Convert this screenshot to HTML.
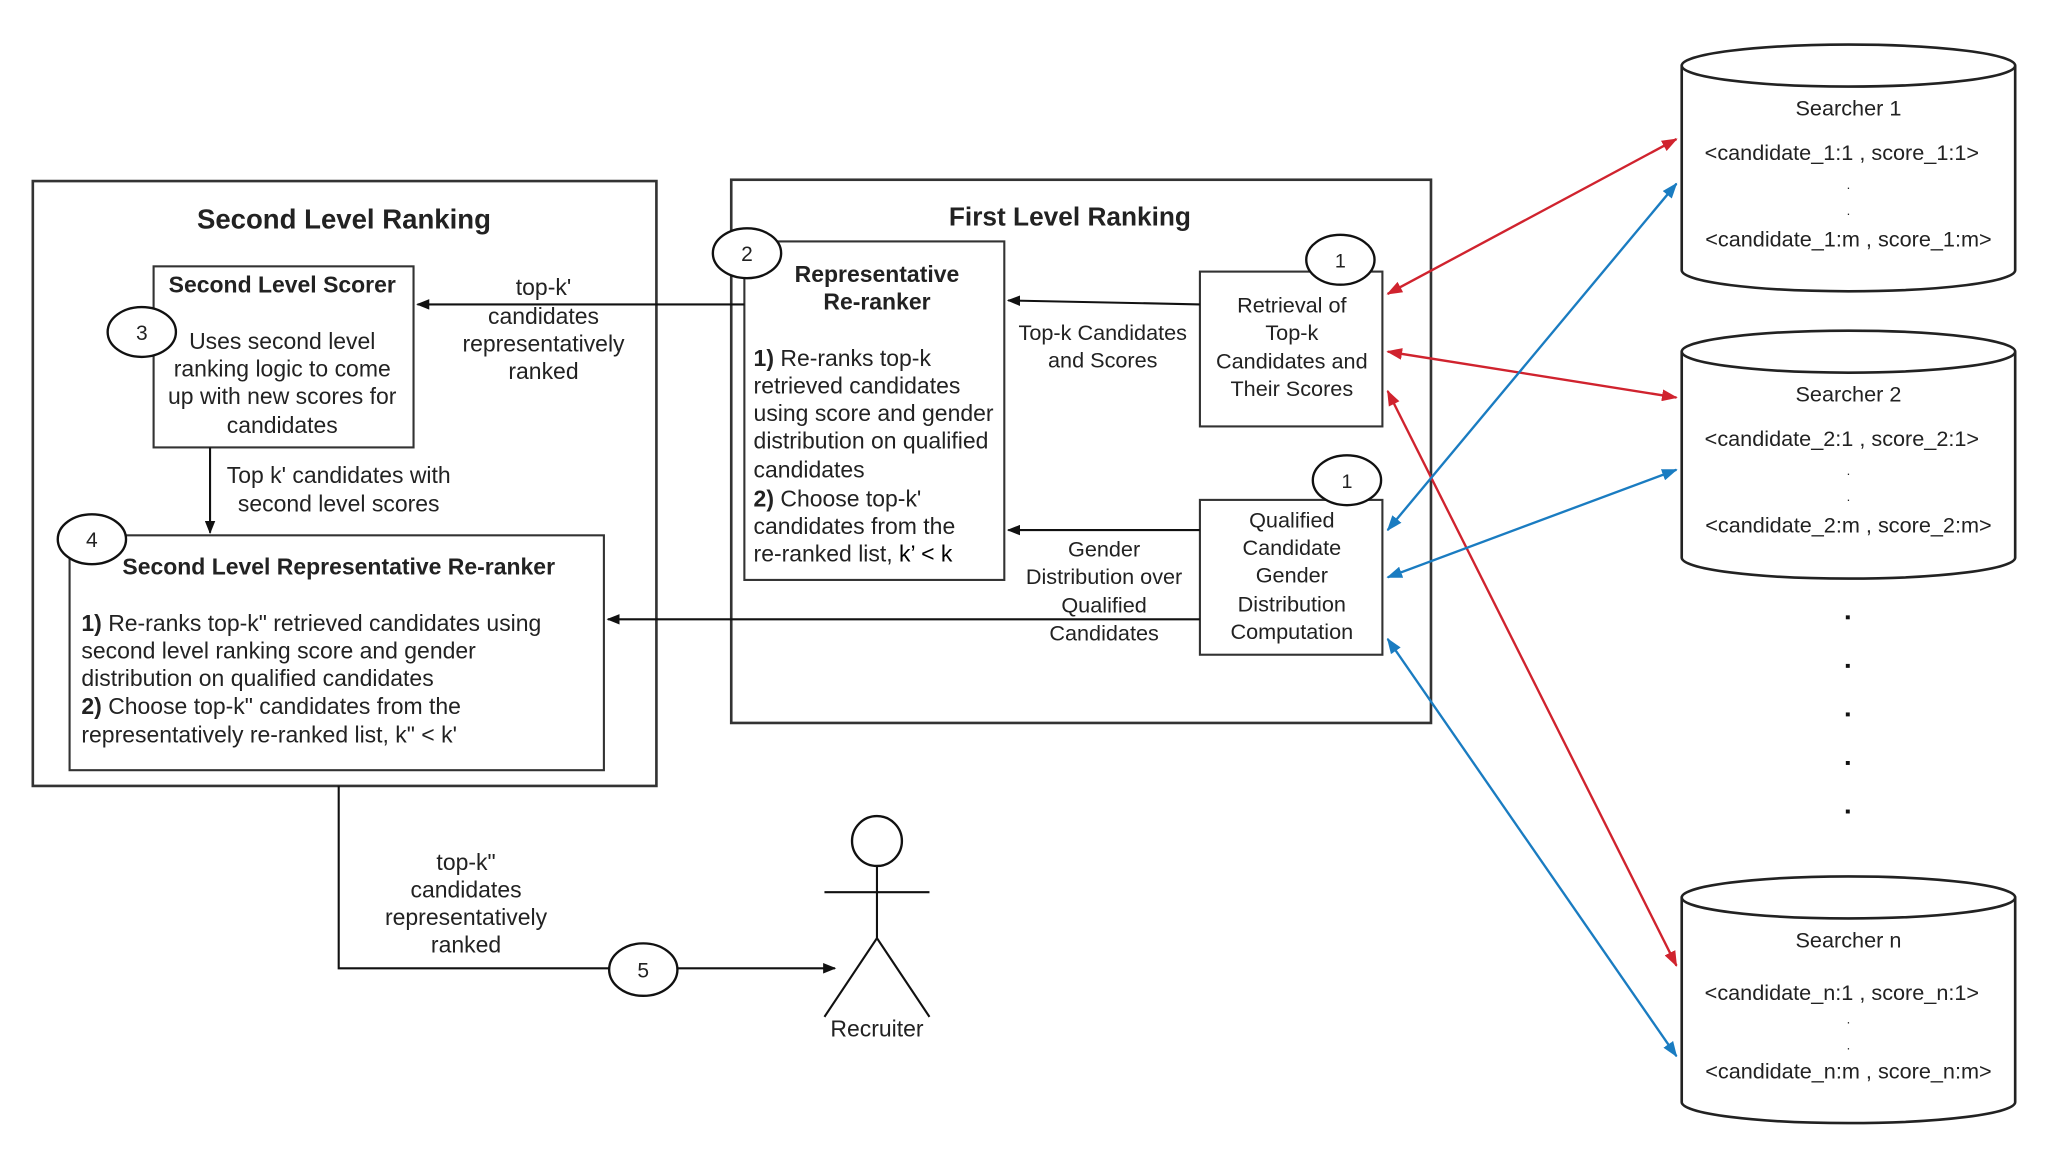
<!DOCTYPE html>
<html><head><meta charset="utf-8"><style>
html,body{margin:0;padding:0;background:#fff;}
svg{display:block;}
text{font-family:"Liberation Sans",sans-serif;fill:#222;}
.n{font-family:"Liberation Sans Narrow","Liberation Sans",sans-serif;}
</style></head><body>
<svg width="2048" height="1152" viewBox="0 0 1560 878" preserveAspectRatio="none" xmlns="http://www.w3.org/2000/svg">
<defs>
<marker id="ak" markerWidth="10" markerHeight="8" refX="9" refY="4" orient="auto" markerUnits="userSpaceOnUse"><path d="M0,0 L10,4 L0,8 z" fill="#111"/></marker>
<marker id="ar" markerWidth="12" markerHeight="9" refX="11" refY="4.5" orient="auto-start-reverse" markerUnits="userSpaceOnUse"><path d="M0,0 L12,4.5 L0,9 z" fill="#d0232e"/></marker>
<marker id="ab" markerWidth="12" markerHeight="9" refX="11" refY="4.5" orient="auto-start-reverse" markerUnits="userSpaceOnUse"><path d="M0,0 L12,4.5 L0,9 z" fill="#1a7cc1"/></marker>
</defs>
<g fill="none" stroke="#333" stroke-width="1.6">
<rect x="25" y="138" width="475" height="461" stroke-width="2"/>
<rect x="117" y="203" width="198" height="138"/>
<rect x="53" y="408" width="407" height="179"/>
<rect x="557" y="137" width="533" height="414" stroke-width="2"/>
<rect x="567" y="184" width="198" height="258"/>
<rect x="914" y="207" width="139" height="118"/>
<rect x="914" y="381" width="139" height="118"/>
</g>
<g fill="#fff" stroke="#111" stroke-width="1.8">
<ellipse cx="108" cy="253" rx="26" ry="19"/>
<ellipse cx="70" cy="411" rx="26" ry="19"/>
<ellipse cx="569" cy="193" rx="26" ry="19"/>
<ellipse cx="1021" cy="198" rx="26" ry="19"/>
<ellipse cx="1026" cy="366" rx="26" ry="19"/>
<ellipse cx="490" cy="739" rx="26" ry="20"/>
</g>
<g stroke="#111" stroke-width="1.6" fill="none">
<line x1="567" y1="232" x2="318" y2="232" marker-end="url(#ak)"/>
<line x1="160" y1="341" x2="160" y2="406" marker-end="url(#ak)"/>
<line x1="914" y1="472" x2="463" y2="472" marker-end="url(#ak)"/>
<line x1="914" y1="232" x2="768" y2="229" marker-end="url(#ak)"/>
<line x1="914" y1="404" x2="768" y2="404" marker-end="url(#ak)"/>
<polyline points="258,599 258,738 464,738"/>
<line x1="516" y1="738" x2="636" y2="738" marker-end="url(#ak)"/>
<ellipse cx="668" cy="641" rx="19" ry="19" stroke-width="1.8"/>
<line x1="668" y1="660" x2="668" y2="715"/>
<line x1="628" y1="680" x2="708" y2="680"/>
<polyline points="628,775 668,715 708,775"/>
</g>
<g stroke-width="1.8">
<line x1="1057" y1="224" x2="1277" y2="106" stroke="#d0232e" marker-start="url(#ar)" marker-end="url(#ar)"/>
<line x1="1057" y1="268" x2="1277" y2="303" stroke="#d0232e" marker-start="url(#ar)" marker-end="url(#ar)"/>
<line x1="1057" y1="298" x2="1277" y2="736" stroke="#d0232e" marker-start="url(#ar)" marker-end="url(#ar)"/>
<line x1="1057" y1="404" x2="1277" y2="140" stroke="#1a7cc1" marker-start="url(#ab)" marker-end="url(#ab)"/>
<line x1="1057" y1="440" x2="1277" y2="358" stroke="#1a7cc1" marker-start="url(#ab)" marker-end="url(#ab)"/>
<line x1="1057" y1="487" x2="1277" y2="805" stroke="#1a7cc1" marker-start="url(#ab)" marker-end="url(#ab)"/>
</g>
<g fill="#fff" stroke="#222" stroke-width="2">
<path d="M1281,50 L1281,206 A127,16 0 0 0 1535,206 L1535,50"/>
<ellipse cx="1408" cy="50" rx="127" ry="16"/>
<path d="M1281,268 L1281,425 A127,16 0 0 0 1535,425 L1535,268"/>
<ellipse cx="1408" cy="268" rx="127" ry="16"/>
<path d="M1281,684 L1281,840 A127,16 0 0 0 1535,840 L1535,684"/>
<ellipse cx="1408" cy="684" rx="127" ry="16"/>
</g>
<g font-size="16.5" text-anchor="middle">
<text x="1408" y="88">Searcher 1</text>
<text x="1403" y="122">&lt;candidate_1:1 , score_1:1&gt;</text>
<text x="1408" y="144" font-size="10">.</text><text x="1408" y="164" font-size="10">.</text>
<text x="1408" y="188">&lt;candidate_1:m , score_1:m&gt;</text>
<text x="1408" y="306">Searcher 2</text>
<text x="1403" y="340">&lt;candidate_2:1 , score_2:1&gt;</text>
<text x="1408" y="362" font-size="10">.</text><text x="1408" y="382" font-size="10">.</text>
<text x="1408" y="406">&lt;candidate_2:m , score_2:m&gt;</text>
<text x="1408" y="722">Searcher n</text>
<text x="1403" y="762">&lt;candidate_n:1 , score_n:1&gt;</text>
<text x="1408" y="780" font-size="10">.</text><text x="1408" y="800" font-size="10">.</text>
<text x="1408" y="822">&lt;candidate_n:m , score_n:m&gt;</text>
</g>
<g fill="#111">
<rect x="1406" y="469" width="3" height="3"/><rect x="1406" y="506" width="3" height="3"/><rect x="1406" y="543" width="3" height="3"/><rect x="1406" y="580" width="3" height="3"/><rect x="1406" y="617" width="3" height="3"/>
</g>
<g text-anchor="middle" font-size="16.5">
<text x="815" y="172" font-size="20" font-weight="bold" fill="#111">First Level Ranking</text>
<text x="984" y="238">Retrieval of</text>
<text x="984" y="259">Top-k</text>
<text x="984" y="281">Candidates and</text>
<text x="984" y="302">Their Scores</text>
<text x="984" y="402">Qualified</text>
<text x="984" y="423">Candidate</text>
<text x="984" y="444">Gender</text>
<text x="984" y="466">Distribution</text>
<text x="984" y="487">Computation</text>
<text x="840" y="259">Top-k Candidates</text>
<text x="840" y="280">and Scores</text>
<text x="841" y="424">Gender</text>
<text x="841" y="445">Distribution over</text>
<text x="841" y="467">Qualified</text>
<text x="841" y="488">Candidates</text>
<text x="1021" y="204" font-size="15">1</text>
<text x="1026" y="372" font-size="15">1</text>
</g>
<g class="n" text-anchor="middle" font-size="17.5">
<text class="n" x="262" y="174" font-size="21" font-weight="bold" fill="#111">Second Level Ranking</text>
<text class="n" x="215" y="223" font-weight="bold" fill="#111">Second Level Scorer</text>
<text class="n" x="215" y="266">Uses second level</text>
<text class="n" x="215" y="287">ranking logic to come</text>
<text class="n" x="215" y="308">up with new scores for</text>
<text class="n" x="215" y="330">candidates</text>
<text class="n" x="414" y="225">top-k'</text>
<text class="n" x="414" y="247">candidates</text>
<text class="n" x="414" y="268">representatively</text>
<text class="n" x="414" y="289">ranked</text>
<text class="n" x="258" y="368">Top k' candidates with</text>
<text class="n" x="258" y="390">second level scores</text>
<text class="n" x="258" y="438" font-weight="bold" fill="#111">Second Level Representative Re-ranker</text>
<text class="n" x="668" y="215" font-weight="bold" fill="#111">Representative</text>
<text class="n" x="668" y="236" font-weight="bold" fill="#111">Re-ranker</text>
<text class="n" x="355" y="663">top-k"</text>
<text class="n" x="355" y="684">candidates</text>
<text class="n" x="355" y="705">representatively</text>
<text class="n" x="355" y="726">ranked</text>
<text class="n" x="668" y="790">Recruiter</text>
<text class="n" x="108" y="259" font-size="16">3</text>
<text class="n" x="70" y="417" font-size="16">4</text>
<text class="n" x="569" y="199" font-size="16">2</text>
<text class="n" x="490" y="745" font-size="16">5</text>
</g>
<g class="n" font-size="17.5">
<text class="n" x="574" y="279"><tspan font-weight="bold">1)</tspan> Re-ranks top-k</text>
<text class="n" x="574" y="300">retrieved candidates</text>
<text class="n" x="574" y="321">using score and gender</text>
<text class="n" x="574" y="342">distribution on qualified</text>
<text class="n" x="574" y="364">candidates</text>
<text class="n" x="574" y="386"><tspan font-weight="bold">2)</tspan> Choose top-k'</text>
<text class="n" x="574" y="407">candidates from the</text>
<text class="n" x="574" y="428">re-ranked list, <tspan fill="#000">k’ &lt; k</tspan></text>
<text class="n" x="62" y="481"><tspan font-weight="bold">1)</tspan> Re-ranks top-k" retrieved candidates using</text>
<text class="n" x="62" y="502">second level ranking score and gender</text>
<text class="n" x="62" y="523">distribution on qualified candidates</text>
<text class="n" x="62" y="544"><tspan font-weight="bold">2)</tspan> Choose top-k" candidates from the</text>
<text class="n" x="62" y="566">representatively re-ranked list, k" &lt; k'</text>
</g>
</svg>
</body></html>
